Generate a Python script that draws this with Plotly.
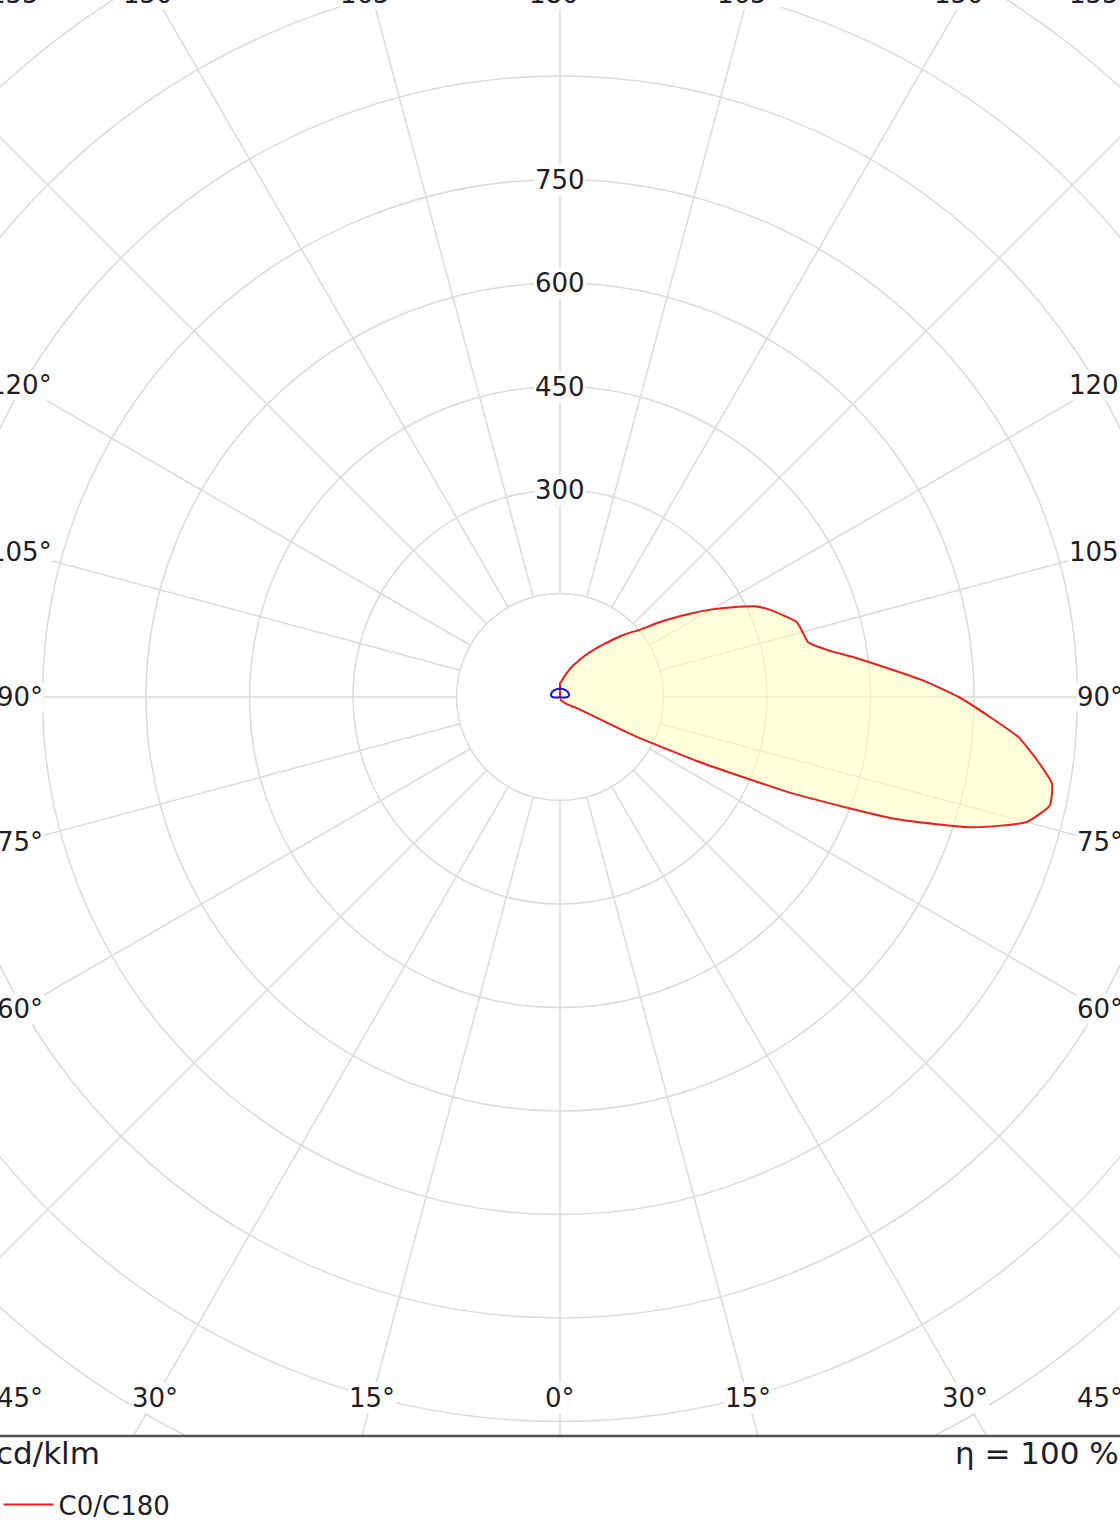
import numpy as np
import plotly.graph_objects as go

# Lichtstärkeverteilung (cd/klm), Gamma-Winkel in Grad (0 = Nadir)
gamma = np.arange(0, 180.1, 2.5)
c0 = [3, 3, 3, 4, 4, 4, 5, 5, 5, 6, 6, 7, 7, 8, 9, 10, 11, 13, 15, 17, 19, 22, 26, 32,
      52, 122, 221, 366, 516, 628, 700, 727, 724, 697, 667, 621, 578, 529, 477, 433,
      393, 368, 364, 360, 345, 330, 311, 282, 254, 225, 199, 175, 152, 138, 125, 112,
      101, 91, 82, 74, 67, 60, 54, 49, 44, 39, 35, 31, 28, 25, 23, 21, 20]
c180 = [0] * 72 + [20]

gamma_b = np.arange(0, 180.1, 5)
c90 = [0, 0, 0, 0, 0, 0, 0, 0, 0, 0, 0, 0, 0, 0.5, 1, 2.5, 5, 8, 11, 12.5, 13, 13.5,
       13.5, 13.5, 13.5, 13.5, 13, 13, 13, 12.5, 12.5, 12.5, 12, 12, 12, 12, 12]
c270 = list(c90)

rings = [150, 300, 450, 600, 750, 900, 1050, 1200, 1350]
ring_labels = [300, 450, 600, 750]
spokes = list(range(0, 360, 15))
angle_ticks = list(range(0, 181, 15))

# Maßstab: 0.69 px pro cd/klm, Mittelpunkt bei (560, 697)
k = 0.69
W, H = 1120, 1528
cx, cy = 560, 697
bottom = 1436

def xy(g, v, side):
    g = np.radians(np.asarray(g, dtype=float))
    v = np.asarray(v, dtype=float)
    return side * v * np.sin(g), -v * np.cos(g)

xr, yr = xy(gamma, c0, 1)
xl, yl = xy(gamma[::-1], c180[::-1], -1)
red_x = np.concatenate([xr, xl])
red_y = np.concatenate([yr, yl])

bxr, byr = xy(gamma_b, c90, 1)
bxl, byl = xy(gamma_b[::-1], c270[::-1], -1)
blue_x = np.concatenate([bxr, bxl])
blue_y = np.concatenate([byr, byl])

grid = "#dadada"
txt = "#1e1e28"
font = "DejaVu Sans"

fig = go.Figure()
fig.add_trace(go.Scatter(x=red_x, y=red_y, mode="lines", fill="toself",
                         fillcolor="rgba(255,255,190,0.55)",
                         line=dict(width=0, shape="spline", smoothing=0.5),
                         showlegend=False, hoverinfo="skip"))
fig.add_trace(go.Scatter(x=red_x, y=red_y, mode="lines", name="C0/C180",
                         line=dict(color="#ee1c1c", width=2, shape="spline", smoothing=0.5)))
fig.add_trace(go.Scatter(x=blue_x, y=blue_y, mode="lines", name="C90/C270",
                         line=dict(color="#1010ee", width=2, shape="spline", smoothing=0.5)))

shapes = []
for r in rings:
    shapes.append(dict(type="circle", xref="x", yref="y", x0=-r, x1=r, y0=-r, y1=r,
                       line=dict(color=grid, width=1.5), layer="below"))
for a in spokes:
    t = np.radians(a)
    shapes.append(dict(type="line", xref="x", yref="y",
                       x0=150 * np.sin(t), y0=-150 * np.cos(t),
                       x1=3000 * np.sin(t), y1=-3000 * np.cos(t),
                       line=dict(color=grid, width=1.5), layer="below"))
shapes.append(dict(type="line", xref="paper", yref="paper", x0=0, x1=1,
                   y0=(H - bottom) / H, y1=(H - bottom) / H,
                   line=dict(color="#505050", width=2.5)))

ann = []
for v in ring_labels:
    ann.append(dict(x=0, y=v, xref="x", yref="y", text=str(v), showarrow=False,
                    bgcolor="white", borderpad=0, font=dict(size=26, color=txt, family=font)))

# Winkelbeschriftung auf einem Rechteck um das Diagramm (Pixel -> Papier)
half_w = 540
d_bot = 701
d_top = 703
for g in angle_ticks:
    sides = [1] if g in (0, 180) else [1, -1]
    for s in sides:
        t = np.radians(g)
        if g <= 45:
            px, py = min(d_bot * np.tan(t), half_w), d_bot
        elif g >= 135:
            px, py = min(d_top * np.tan(np.pi - t), half_w), -d_top
        else:
            px, py = half_w, half_w / np.tan(t)
        ann.append(dict(x=(cx + s * px) / W, y=1 - (cy + py) / H, xref="paper", yref="paper",
                        text=f"{g}°", showarrow=False, xanchor="center", yanchor="middle",
                        bgcolor="white", borderpad=0, font=dict(size=26, color=txt, family=font)))

ann.append(dict(x=0, y=1 - 1453 / H, xref="paper", yref="paper", text="cd/klm",
                xanchor="left", yanchor="middle", xshift=-6, showarrow=False,
                font=dict(size=31, color=txt, family=font)))
ann.append(dict(x=953 / W, y=1 - 1453 / H, xref="paper", yref="paper", text="η = 100 %",
                xanchor="left", yanchor="middle", showarrow=False,
                font=dict(size=31, color=txt, family=font)))

fig.update_layout(
    width=W, height=H,
    margin=dict(l=0, r=0, t=0, b=0, autoexpand=False),
    paper_bgcolor="white", plot_bgcolor="white",
    xaxis=dict(range=[-cx / k, (W - cx) / k], visible=False, domain=[0, 1], fixedrange=True),
    yaxis=dict(range=[-(bottom - cy) / k, cy / k], visible=False,
               domain=[(H - bottom) / H, 1], fixedrange=True),
    shapes=shapes, annotations=ann,
    showlegend=True,
    legend=dict(x=-0.0013, y=1 - 1481 / H, xanchor="left", yanchor="top",
                font=dict(size=26, color=txt, family=font), itemwidth=50,
                bgcolor="rgba(0,0,0,0)", tracegroupgap=0),
)

fig.write_html("out.html", config={"displayModeBar": False},
               post_script="document.body.style.margin='0px';")
